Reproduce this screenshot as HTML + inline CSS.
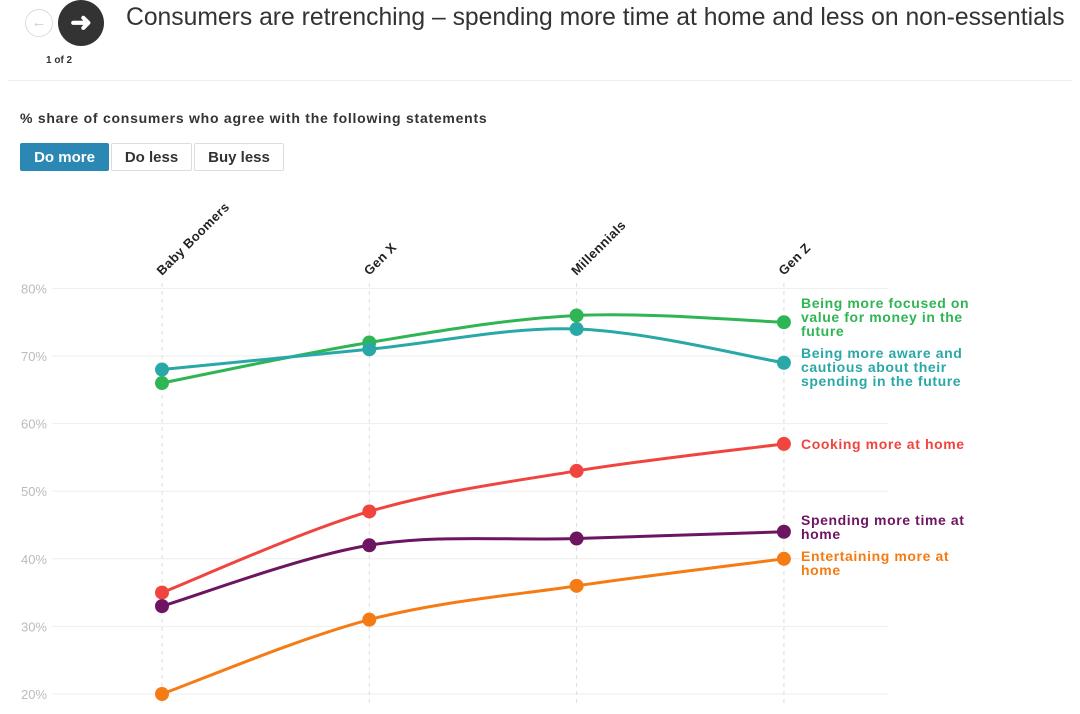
<!DOCTYPE html>
<html><head><meta charset="utf-8"><style>
body{margin:0;width:1080px;height:714px;overflow:hidden;background:#fff;font-family:"Liberation Sans",sans-serif;position:relative}
.btn{position:absolute;top:143px;height:28px;box-sizing:border-box;border:1px solid #ddd;font-weight:bold;font-size:15px;line-height:28px;text-align:center;color:#333;border-radius:2px}
</style></head><body>
<div style="position:absolute;left:25px;top:9px;width:26px;height:26px;border:1px solid #ddd;border-radius:50%;color:#ccc;text-align:center;line-height:26px;font-size:15px">&#8592;</div>
<div style="position:absolute;left:58px;top:0px;width:46px;height:46px;background:#333;border-radius:50%;color:#fff;text-align:center;line-height:44px;font-size:26px;font-weight:bold">&#10140;</div>
<div style="position:absolute;left:46px;top:55px;font-size:10px;font-weight:bold;color:#333">1 of 2</div>
<div style="position:absolute;left:126px;top:4px;font-size:24.7px;color:#333;white-space:nowrap">Consumers are retrenching – spending more time at home and less on non-essentials</div>
<div style="position:absolute;left:8px;top:80px;width:1064px;height:1px;background:#eee"></div>
<div style="position:absolute;left:20px;top:110px;font-size:14px;font-weight:bold;color:#333;letter-spacing:0.75px;white-space:nowrap">% share of consumers who agree with the following statements</div>
<div class="btn" style="left:20px;width:89px;background:#2b87b4;border-color:#2b87b4;color:#fff">Do more</div>
<div class="btn" style="left:111px;width:81px">Do less</div>
<div class="btn" style="left:194px;width:90px">Buy less</div>
<svg id="chart" width="1080" height="714" style="position:absolute;left:0;top:0"></svg>
<script>
const categories=["Baby Boomers","Gen X","Millennials","Gen Z"];
const yTicks=[20,30,40,50,60,70,80];
const seriesNames=["Being more focused on|value for money in the|future","Being more aware and|cautious about their|spending in the future","Cooking more at home","Spending more time at|home","Entertaining more at|home"];
const seriesColors=["#2fb554","#2aa8a8","#f0453f","#6d1560","#f57c14"];
const valueForMoney=[66,72,76,75];
const awareCautious=[68,71,74,69];
const cooking=[35,47,53,57];
const timeAtHome=[33,42,43,44];
const entertaining=[20,31,36,40];
const series=[valueForMoney,awareCautious,cooking,timeAtHome,entertaining];
const labelY=[303,353,444,520,556];
const NS="http://www.w3.org/2000/svg",svg=document.getElementById('chart');
const x=i=>162+i*207.3, y=v=>694-(v-20)*6.76;
function mk(t,a,p){const e=document.createElementNS(NS,t);for(const k in a)e.setAttribute(k,a[k]);(p||svg).appendChild(e);return e;}
yTicks.forEach(t=>{
 const g=mk('line',{x1:52,x2:888,y1:y(t),y2:y(t),stroke:'#eee'});
 
 
 const l=mk('text',{x:47,y:y(t)+5,'text-anchor':'end','font-size':13,fill:'#bbb'});l.textContent=t+'%';
 
 
});
categories.forEach((c,i)=>{
 const g=mk('line',{x1:x(i),x2:x(i),y1:283,y2:705,stroke:'#ddd','stroke-dasharray':'4,4'});
 
 
 const t=mk('text',{x:x(i),y:276,transform:`rotate(-45 ${x(i)} 276)`,'font-size':13,'font-weight':'bold',fill:'#222','letter-spacing':'0.4'});t.textContent=c;
 
 
});
function path(pts){let d=`M${pts[0][0]},${pts[0][1]}`;for(let i=0;i<pts.length-1;i++){const p0=pts[Math.max(i-1,0)],p1=pts[i],p2=pts[i+1],p3=pts[Math.min(i+2,pts.length-1)];
 d+=` C${p1[0]+(p2[0]-p0[0])/6},${p1[1]+(p2[1]-p0[1])/6} ${p2[0]-(p3[0]-p1[0])/6},${p2[1]-(p3[1]-p1[1])/6} ${p2[0]},${p2[1]}`;}return d;}
series.forEach((s,k)=>{
 const pts=s.map((v,i)=>[x(i),y(v)]);
 const p=mk('path',{d:path(pts),fill:'none',stroke:seriesColors[k],'stroke-width':3});
 
 
 pts.forEach(q=>{const c=mk('circle',{cx:q[0],cy:q[1],r:7,fill:seriesColors[k]});
  
  });
 const lines=seriesNames[k].split('|');
 const t=mk('text',{x:801,y:labelY[k]+5,'font-size':14,'font-weight':'bold',fill:seriesColors[k],'letter-spacing':'0.6'});
 
 
 lines.forEach((ln,j)=>{const ts=mk('tspan',{x:801,dy:j?14:0},t);ts.textContent=ln;});
});
</script>
</body></html>
